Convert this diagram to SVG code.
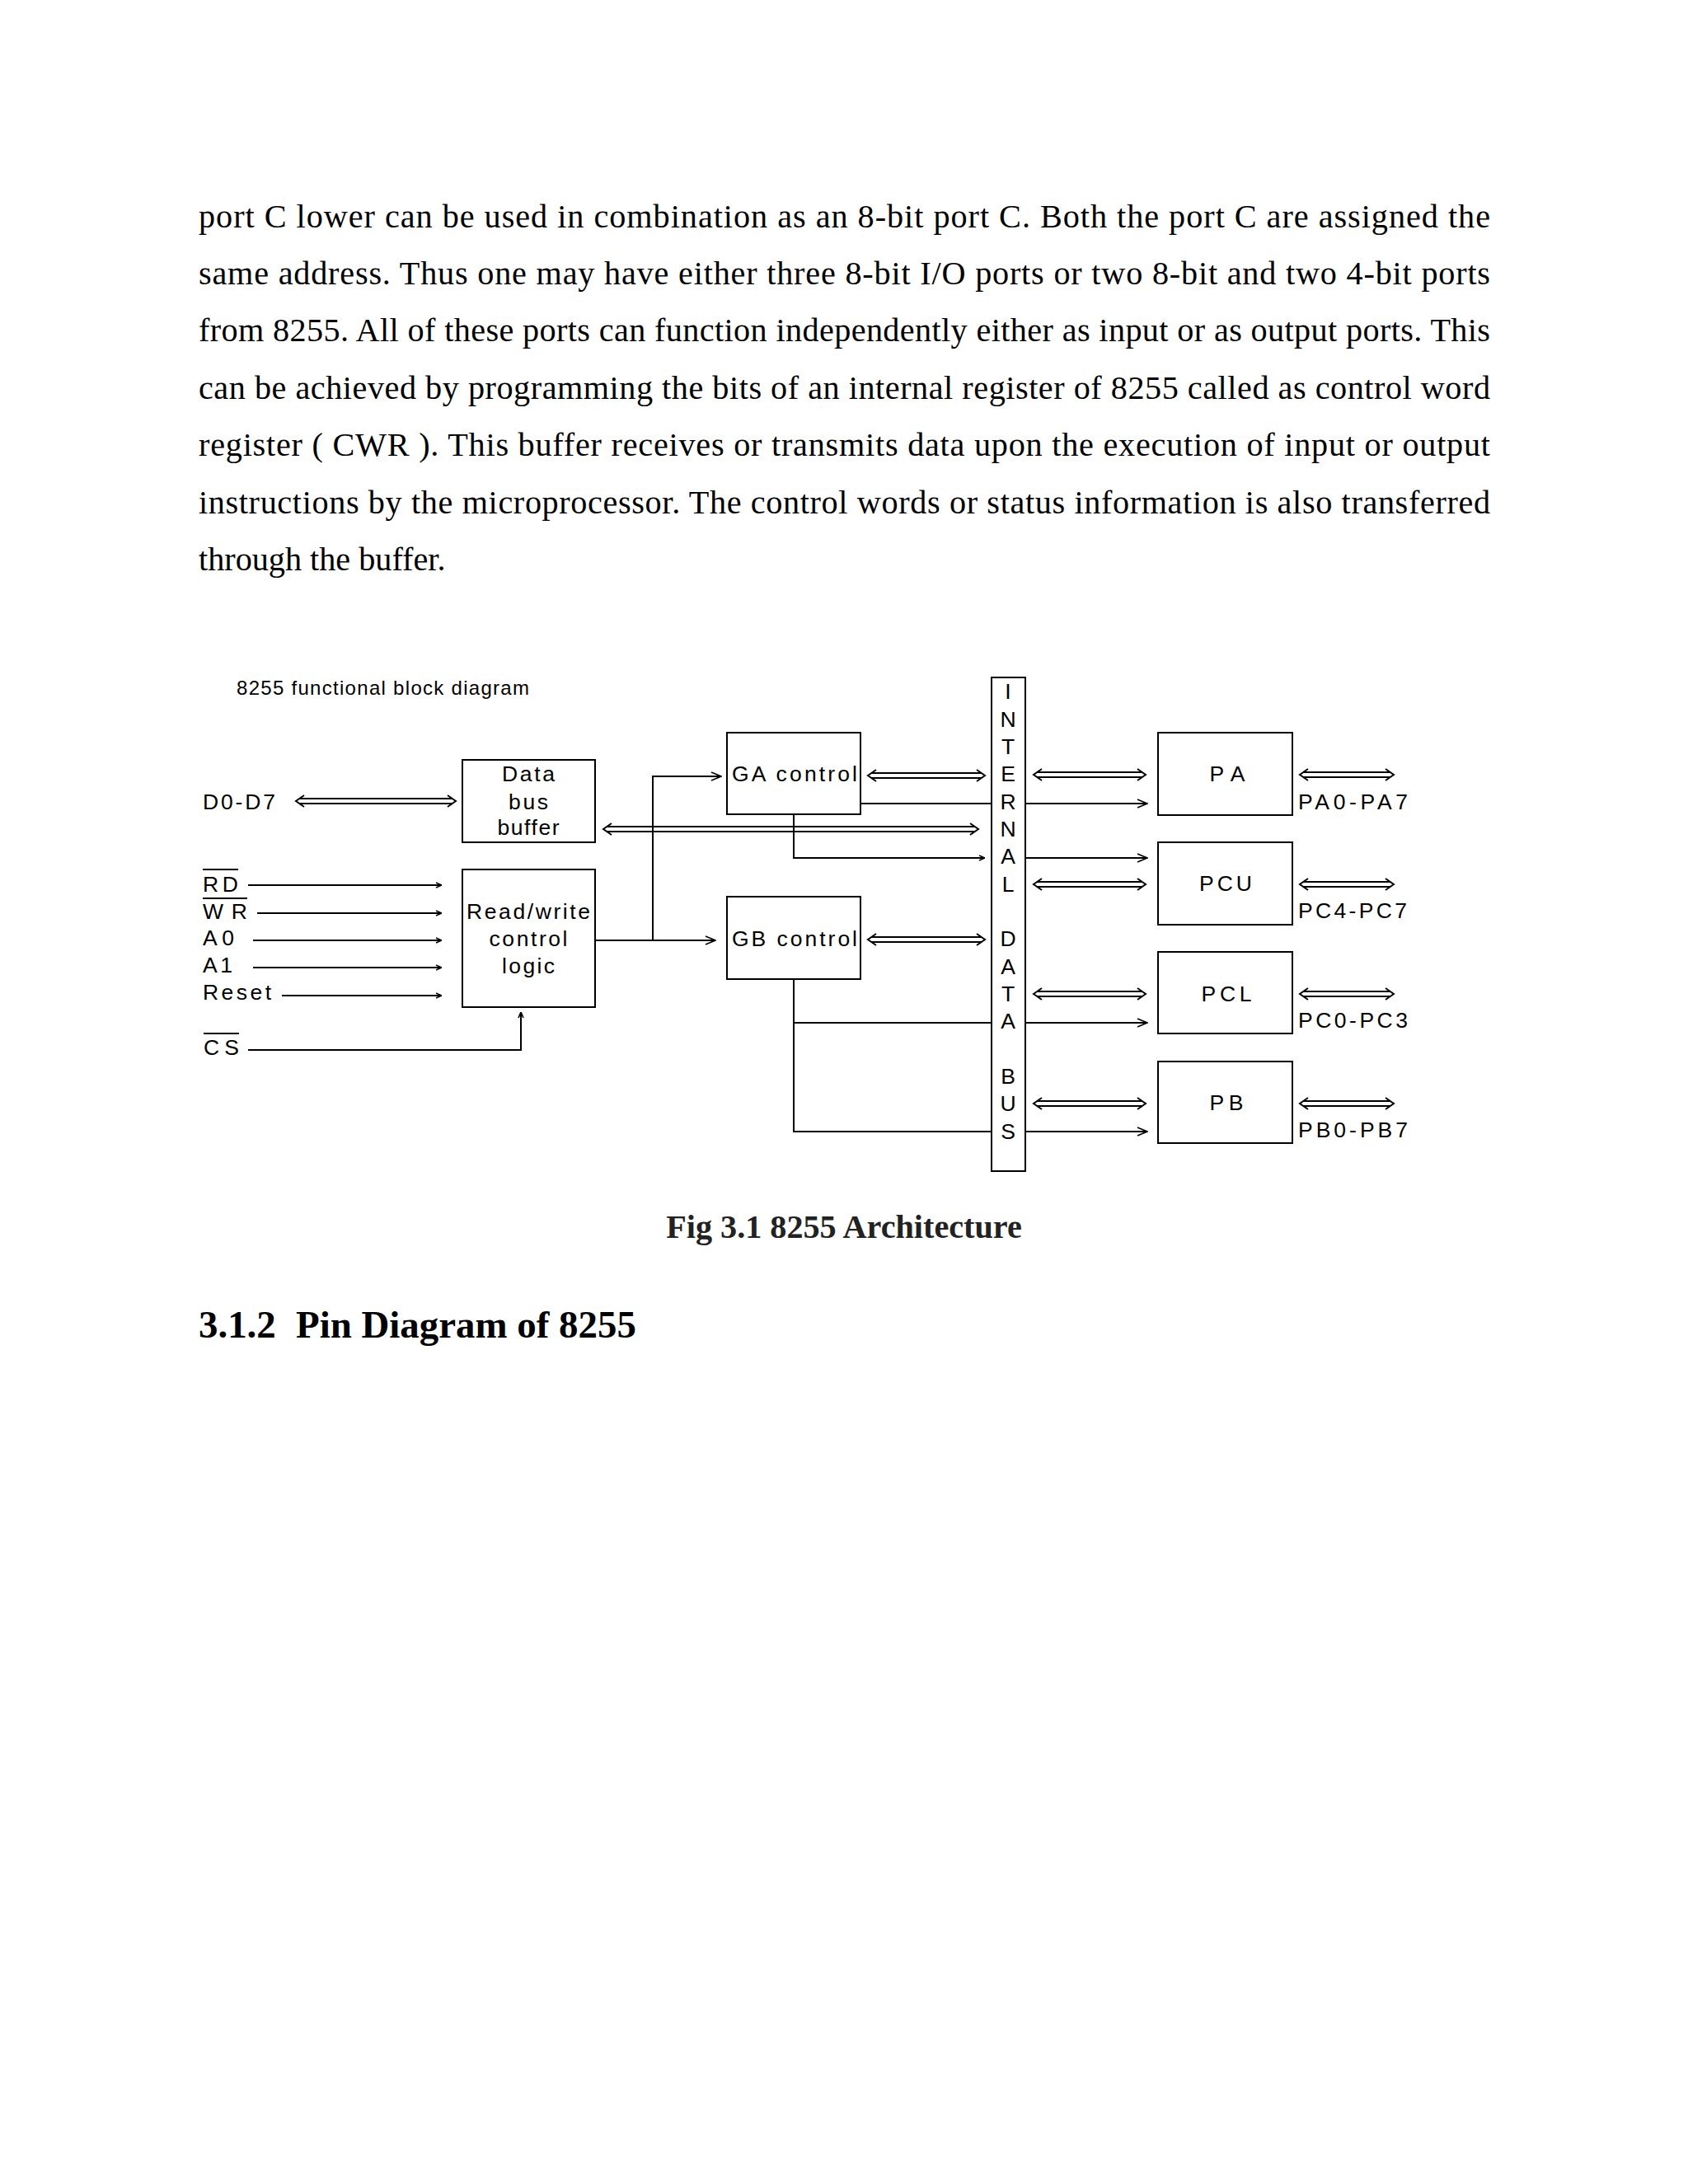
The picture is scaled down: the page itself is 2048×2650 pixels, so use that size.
<svg xmlns="http://www.w3.org/2000/svg" width="2048" height="2650" viewBox="0 0 2048 2650">
<style>
.body{font-family:"Liberation Serif","Times New Roman",serif;font-size:40.2px;fill:#000}
.cap{font-family:"Liberation Serif","Times New Roman",serif;font-size:40.2px;font-weight:bold;fill:#222}
.head{font-family:"Liberation Serif","Times New Roman",serif;font-size:46.9px;font-weight:bold;fill:#000}
.dg{font-family:"Liberation Sans",Arial,sans-serif;font-size:26.5px;fill:#000}
.ttl{font-family:"Liberation Sans",Arial,sans-serif;font-size:24px;fill:#000}
.mid{text-anchor:middle}
.box{fill:#fff;stroke:#000;stroke-width:2}
.ln{fill:none;stroke:#000;stroke-width:2}
.dbl{fill:none;stroke:#000;stroke-width:2}
.sm{marker-end:url(#sm)}
.ch{marker-end:url(#chev)}
</style>
<defs>
<marker id="sm" viewBox="0 0 8 8" refX="8" refY="4" markerWidth="8" markerHeight="8" markerUnits="userSpaceOnUse" orient="auto"><path d="M1 1 L8 4 L1 7" fill="none" stroke="#000" stroke-width="1.6"/></marker>
<marker id="chev" viewBox="0 0 14 12" refX="13" refY="6" markerWidth="14" markerHeight="12" markerUnits="userSpaceOnUse" orient="auto"><path d="M1 1 L13 6 L1 11" fill="none" stroke="#000" stroke-width="1.6"/></marker>
</defs>
<rect width="2048" height="2650" fill="#fff"/>

<g id="paragraph">
<text class="body" x="241" y="276" textLength="1567" lengthAdjust="spacing">port C lower can be used in combination as an 8-bit port C. Both the port C are assigned the</text>
<text class="body" x="241" y="345" textLength="1567" lengthAdjust="spacing">same address. Thus one may have either three 8-bit I/O ports or two 8-bit and two 4-bit ports</text>
<text class="body" x="241" y="414" textLength="1567" lengthAdjust="spacing">from 8255. All of these ports can function independently either as input or as output ports. This</text>
<text class="body" x="241" y="484" textLength="1567" lengthAdjust="spacing">can be achieved by programming the bits of an internal register of 8255 called as control word</text>
<text class="body" x="241" y="553" textLength="1567" lengthAdjust="spacing">register ( CWR ). This buffer receives or transmits data upon the execution of input or output</text>
<text class="body" x="241" y="623" textLength="1567" lengthAdjust="spacing">instructions by the microprocessor. The control words or status information is also transferred</text>
<text class="body" x="241" y="692">through the buffer.</text>
</g>

<text id="diagram-title" class="ttl" x="287" y="843" textLength="355" lengthAdjust="spacing">8255 functional block diagram</text>

<g id="connectors">
<path class="ln sm" d="M301 1074 H536"/>
<path class="ln sm" d="M312 1108 H536"/>
<path class="ln sm" d="M307 1141 H536"/>
<path class="ln sm" d="M307 1174 H536"/>
<path class="ln sm" d="M342 1208 H536"/>
<path class="ln sm" d="M301 1274 H632 V1228"/>
<path class="ln ch" d="M722 1141 H868"/>
<path class="ln ch" d="M792 1141 V942 H875"/>
<path class="ln" d="M1044 975 H1203"/>
<path class="ln ch" d="M1245 975 H1392"/>
<path class="ln sm" d="M963 988 V1041 H1195"/>
<path class="ln ch" d="M1245 1041 H1392"/>
<path class="ln" d="M963 1188 V1373 H1203"/>
<path class="ln" d="M963 1241 H1203"/>
<path class="ln ch" d="M1245 1241 H1392"/>
<path class="ln ch" d="M1245 1373 H1392"/>
<path class="dbl" d="M363 969 H549 M363 975 H549 M369 965 L359 972 L369 979 M543 965 L553 972 L543 979"/>
<path class="dbl" d="M736 1003 H1183 M736 1009 H1183 M742 999 L732 1006 L742 1013 M1177 999 L1187 1006 L1177 1013"/>
<path class="dbl" d="M1057 938 H1191 M1057 944 H1191 M1063 934 L1053 941 L1063 948 M1185 934 L1195 941 L1185 948"/>
<path class="dbl" d="M1057 1137 H1191 M1057 1143 H1191 M1063 1133 L1053 1140 L1063 1147 M1185 1133 L1195 1140 L1185 1147"/>
<path class="dbl" d="M1258 937 H1386 M1258 943 H1386 M1264 933 L1254 940 L1264 947 M1380 933 L1390 940 L1380 947"/>
<path class="dbl" d="M1258 1070 H1386 M1258 1076 H1386 M1264 1066 L1254 1073 L1264 1080 M1380 1066 L1390 1073 L1380 1080"/>
<path class="dbl" d="M1258 1203 H1386 M1258 1209 H1386 M1264 1199 L1254 1206 L1264 1213 M1380 1199 L1390 1206 L1380 1213"/>
<path class="dbl" d="M1258 1336 H1386 M1258 1342 H1386 M1264 1332 L1254 1339 L1264 1346 M1380 1332 L1390 1339 L1380 1346"/>
<path class="dbl" d="M1581 937 H1687 M1581 943 H1687 M1587 933 L1577 940 L1587 947 M1681 933 L1691 940 L1681 947"/>
<path class="dbl" d="M1581 1070 H1687 M1581 1076 H1687 M1587 1066 L1577 1073 L1587 1080 M1681 1066 L1691 1073 L1681 1080"/>
<path class="dbl" d="M1581 1203 H1687 M1581 1209 H1687 M1587 1199 L1577 1206 L1587 1213 M1681 1199 L1691 1206 L1681 1213"/>
<path class="dbl" d="M1581 1336 H1687 M1581 1342 H1687 M1587 1332 L1577 1339 L1587 1346 M1681 1332 L1691 1339 L1681 1346"/>
</g>

<g id="pins">
<text class="dg" x="246" y="982" textLength="88" lengthAdjust="spacing">D0-D7</text>
<text class="dg" x="246" y="1082" textLength="43" lengthAdjust="spacing">RD</text>
<path class="ln" d="M246 1055 H289"/>
<text class="dg" x="246" y="1115" textLength="54" lengthAdjust="spacing">WR</text>
<path class="ln" d="M246 1090 H300"/>
<text class="dg" x="246" y="1147" textLength="38" lengthAdjust="spacing">A0</text>
<text class="dg" x="246" y="1180" textLength="36" lengthAdjust="spacing">A1</text>
<text class="dg" x="246" y="1213" textLength="83" lengthAdjust="spacing">Reset</text>
<text class="dg" x="247" y="1280" textLength="43" lengthAdjust="spacing">CS</text>
<path class="ln" d="M247 1254 H290"/>
</g>

<g id="data-bus-buffer">
<rect class="box" x="561" y="922" width="161" height="100"/>
<text class="dg mid" x="641" y="948" textLength="64" lengthAdjust="spacing">Data</text>
<text class="dg mid" x="641" y="982" textLength="48" lengthAdjust="spacing">bus</text>
<text class="dg mid" x="641" y="1013" textLength="75" lengthAdjust="spacing">buffer</text>
</g>

<g id="read-write-control-logic">
<rect class="box" x="561" y="1055" width="161" height="167"/>
<text class="dg mid" x="641" y="1115" textLength="150" lengthAdjust="spacing">Read/write</text>
<text class="dg mid" x="641" y="1148" textLength="95" lengthAdjust="spacing">control</text>
<text class="dg mid" x="641" y="1181" textLength="64" lengthAdjust="spacing">logic</text>
</g>

<g id="ga-control">
<rect class="box" x="882" y="889" width="162" height="99"/>
<text class="dg" x="888" y="948" textLength="152" lengthAdjust="spacing">GA control</text>
</g>

<g id="gb-control">
<rect class="box" x="882" y="1088" width="162" height="100"/>
<text class="dg" x="888" y="1148" textLength="152" lengthAdjust="spacing">GB control</text>
</g>

<g id="internal-data-bus">
<rect class="box" x="1203" y="822" width="41" height="599"/>
<g class="dg mid">
<text x="1223" y="848">I</text>
<text x="1223" y="882">N</text>
<text x="1223" y="915">T</text>
<text x="1223" y="948">E</text>
<text x="1223" y="982">R</text>
<text x="1223" y="1015">N</text>
<text x="1223" y="1048">A</text>
<text x="1223" y="1082">L</text>
<text x="1223" y="1148">D</text>
<text x="1223" y="1182">A</text>
<text x="1223" y="1215">T</text>
<text x="1223" y="1248">A</text>
<text x="1223" y="1315">B</text>
<text x="1223" y="1348">U</text>
<text x="1223" y="1382">S</text>
</g>
</g>

<g id="port-a">
<rect class="box" x="1405" y="889" width="163" height="100"/>
<text class="dg mid" x="1489" y="948" textLength="43" lengthAdjust="spacing">PA</text>
<text class="dg" x="1575" y="982" textLength="133" lengthAdjust="spacing">PA0-PA7</text>
</g>

<g id="port-c-upper">
<rect class="box" x="1405" y="1022" width="163" height="100"/>
<text class="dg mid" x="1487" y="1081" textLength="64" lengthAdjust="spacing">PCU</text>
<text class="dg" x="1575" y="1114" textLength="132" lengthAdjust="spacing">PC4-PC7</text>
</g>

<g id="port-c-lower">
<rect class="box" x="1405" y="1155" width="163" height="99"/>
<text class="dg mid" x="1488" y="1215" textLength="61" lengthAdjust="spacing">PCL</text>
<text class="dg" x="1575" y="1247" textLength="133" lengthAdjust="spacing">PC0-PC3</text>
</g>

<g id="port-b">
<rect class="box" x="1405" y="1288" width="163" height="99"/>
<text class="dg mid" x="1488" y="1347" textLength="41" lengthAdjust="spacing">PB</text>
<text class="dg" x="1575" y="1380" textLength="133" lengthAdjust="spacing">PB0-PB7</text>
</g>

<text id="caption" class="cap" x="1024" y="1502" text-anchor="middle">Fig 3.1 8255 Architecture</text>
<text id="heading" class="head" x="241" y="1623">3.1.2<tspan x="359">Pin Diagram of 8255</tspan></text>
</svg>
